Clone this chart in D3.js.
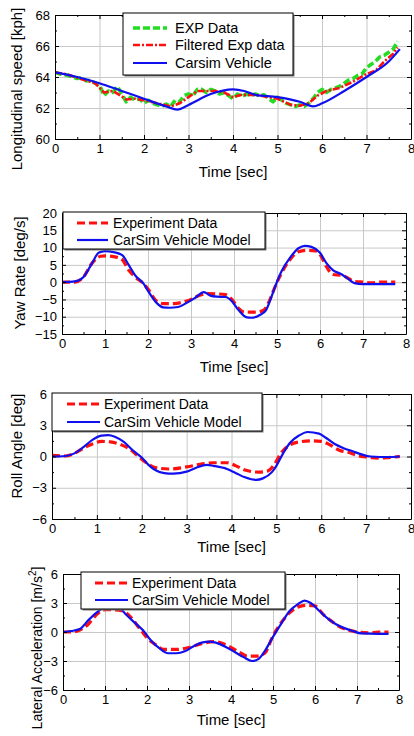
<!DOCTYPE html>
<html>
<head>
<meta charset="utf-8">
<script src="https://cdn.jsdelivr.net/npm/d3@7"></script>
<style>
  body { margin: 0; background: #fff; }
  svg { display: block; font-family: "Liberation Sans", Arial, sans-serif; }
  .grid line { stroke: #c8c8c8; stroke-width: 1; }
  .grid path { display: none; }
  .tick text { font-size: 13px; fill: #000; }
</style>
</head>
<body>
<div id="chart"></div>
<script>
// ---- data ----
const xTicks = [0, 1, 2, 3, 4, 5, 6, 7, 8];

// longitudinal speed [kph]
const speedExp = [[0,64.3],[0.1,64.2],[0.2,64.15],[0.3,64.1],[0.4,64.0],[0.5,63.9],[0.6,63.95],[0.7,63.75],[0.8,63.8],[0.9,63.6],
  [1.0,63.5],[1.1,62.8],[1.2,63.1],[1.3,63.0],[1.4,63.4],[1.5,62.9],[1.6,62.4],[1.7,62.7],[1.8,62.5],[1.9,62.6],
  [2.0,62.3],[2.1,62.5],[2.2,62.3],[2.3,62.2],[2.4,62.1],[2.5,62.25],[2.6,62.1],[2.7,62.5],[2.8,62.4],[2.9,62.8],
  [3.0,62.9],[3.1,62.8],[3.2,63.2],[3.3,63.2],[3.4,63.0],[3.5,63.2],[3.6,63.1],[3.7,62.9],[3.8,63.0],[3.9,62.8],
  [4.0,62.6],[4.1,62.9],[4.2,62.75],[4.3,62.9],[4.4,62.8],[4.5,62.9],[4.6,62.8],[4.7,62.85],[4.8,62.6],[4.9,62.4],
  [5.0,62.7],[5.1,62.5],[5.2,62.3],[5.3,62.2],[5.4,62.1],[5.5,62.2],[5.6,62.1],[5.7,62.3],[5.8,62.6],[5.9,63.0],
  [6.0,63.2],[6.1,63.0],[6.2,63.2],[6.3,63.3],[6.4,63.4],[6.5,63.6],[6.6,63.8],[6.7,63.9],[6.8,64.1],[6.9,64.2],
  [7.0,64.6],[7.1,64.8],[7.2,65.0],[7.3,65.3],[7.4,65.4],[7.5,65.6],[7.6,65.8],[7.7,66.3]];
const speedFiltered = [[0,64.3],[0.3,64.15],[0.6,63.85],[0.9,63.6],[1.1,63.0],[1.3,63.1],[1.5,62.75],[1.6,62.55],[1.8,62.6],
  [2.0,62.5],[2.3,62.3],[2.6,62.1],[2.8,62.3],[3.0,62.7],[3.2,63.1],[3.4,63.1],[3.6,63.1],[3.8,63.0],[4.0,62.7],
  [4.2,62.85],[4.5,62.85],[4.8,62.7],[5.0,62.6],[5.3,62.2],[5.5,62.15],[5.7,62.3],[5.9,62.8],[6.1,63.1],[6.4,63.3],
  [6.7,63.7],[7.0,64.2],[7.2,64.4],[7.4,65.0],[7.6,65.5],[7.7,65.9]];
const speedCarsim = [[0,64.3],[0.5,64.0],[1.0,63.6],[1.5,63.1],[2.0,62.6],[2.5,62.1],[2.75,61.9],[3.0,62.2],[3.5,62.9],
  [4.0,63.2],[4.25,63.1],[4.5,62.85],[5.0,62.7],[5.5,62.4],[5.8,62.1],[6.0,62.3],[6.5,63.1],[7.0,64.0],[7.5,65.0],[7.75,65.8]];

// yaw rate [deg/s]
const yawExp = [[0,0],[0.3,0],[0.5,1.5],[0.7,5.5],[0.9,7.5],[1.0,7.6],[1.2,7.4],[1.4,6.5],[1.55,3.5],[1.7,1.5],[1.9,-0.5],
  [2.0,-2],[2.2,-5.5],[2.35,-6.2],[2.6,-6.2],[2.8,-5.8],[3.0,-5],[3.2,-3.8],[3.4,-3.3],[3.6,-3.4],[3.8,-3.6],[3.95,-5],
  [4.1,-7.5],[4.25,-8.7],[4.5,-8.7],[4.7,-8],[4.8,-6],[4.95,-1.5],[5.1,2.5],[5.3,6.5],[5.5,8.8],[5.7,9.2],[5.9,9.0],
  [6.0,8],[6.15,4.5],[6.3,2.2],[6.5,2.0],[6.6,1.5],[6.8,0.2],[7.0,0],[7.2,-0.2],[7.4,0],[7.6,0],[7.75,0]];
const yawCarsim = [[0,0],[0.3,0.2],[0.5,1.5],[0.7,5.5],[0.85,8.5],[1.0,9.0],[1.2,8.7],[1.4,7.8],[1.55,5],[1.7,2],[1.9,-0.5],
  [2.0,-2.5],[2.2,-6],[2.35,-7.3],[2.5,-7.4],[2.7,-7.2],[2.9,-6],[3.1,-4.5],[3.3,-2.9],[3.45,-3.9],[3.6,-4.2],[3.8,-4.3],
  [3.95,-5.5],[4.1,-8],[4.3,-10.2],[4.4,-10.3],[4.6,-9.5],[4.75,-8],[4.85,-5],[4.95,-1.5],[5.1,3],[5.3,7],[5.5,9.8],
  [5.65,10.5],[5.8,10.2],[6.0,8.5],[6.15,5.5],[6.3,3.5],[6.5,2.3],[6.65,1],[6.8,-0.3],[7.0,-0.6],[7.5,-0.6],[7.75,-0.6]];

// roll angle [deg]
const rollExp = [[0,0.1],[0.3,0.05],[0.5,0.3],[0.7,0.8],[0.9,1.2],[1.1,1.45],[1.3,1.4],[1.5,1.2],[1.7,0.8],[1.9,0.1],
  [2.1,-0.6],[2.3,-1.05],[2.6,-1.2],[3.0,-1.0],[3.3,-0.75],[3.6,-0.6],[3.9,-0.6],[4.1,-0.9],[4.3,-1.3],[4.6,-1.5],
  [4.8,-1.4],[4.95,-0.8],[5.1,0.3],[5.3,1.1],[5.5,1.4],[5.8,1.5],[6.0,1.45],[6.2,1.1],[6.4,0.6],[6.6,0.4],[6.8,0.1],
  [7.0,-0.05],[7.3,-0.15],[7.5,-0.1],[7.75,0]];
const rollCarsim = [[0,0],[0.3,0.05],[0.5,0.3],[0.7,0.9],[0.9,1.6],[1.1,2.0],[1.25,2.05],[1.4,1.9],[1.6,1.4],[1.8,0.6],
  [2.0,-0.1],[2.15,-0.8],[2.3,-1.3],[2.5,-1.6],[2.7,-1.65],[3.0,-1.45],[3.2,-1.1],[3.45,-0.8],[3.6,-0.9],[3.9,-1.2],
  [4.1,-1.6],[4.3,-2.0],[4.55,-2.25],[4.7,-2.1],[4.9,-1.5],[5.0,-0.9],[5.15,0.3],[5.3,1.3],[5.5,2.0],[5.7,2.35],
  [5.95,2.2],[6.1,1.8],[6.3,1.2],[6.5,0.8],[6.7,0.5],[6.9,0.2],[7.1,0.0],[7.5,-0.05],[7.75,0]];

// lateral acceleration [m/s^2]
const latExp = [[0,0],[0.2,0],[0.4,0.2],[0.6,0.8],[0.8,1.8],[1.0,2.3],[1.2,2.3],[1.4,2.2],[1.6,1.6],[1.8,0.5],[2.0,-0.6],
  [2.2,-1.3],[2.4,-1.8],[2.7,-1.8],[3.0,-1.6],[3.3,-1.2],[3.6,-1.0],[3.8,-1.2],[4.0,-1.6],[4.2,-2.1],[4.4,-2.5],[4.6,-2.5],
  [4.8,-2.2],[5.0,-0.4],[5.2,1.0],[5.4,2.0],[5.6,2.6],[5.8,2.75],[6.0,2.7],[6.2,1.8],[6.4,1.1],[6.6,0.5],[6.8,0.2],
  [7.0,0],[7.3,-0.1],[7.5,0],[7.75,0]];
const latCarsim = [[0,0],[0.2,0.1],[0.4,0.3],[0.6,1.2],[0.8,2.0],[1.0,2.6],[1.2,2.7],[1.35,2.5],[1.5,1.8],[1.7,1.0],[1.9,0.2],
  [2.1,-0.9],[2.3,-1.7],[2.5,-2.2],[2.7,-2.2],[2.9,-2.0],[3.1,-1.5],[3.3,-1.1],[3.5,-1.0],[3.7,-1.2],[3.9,-1.6],[4.1,-2.1],
  [4.3,-2.6],[4.5,-3.0],[4.65,-2.8],[4.8,-2.0],[5.0,-0.5],[5.2,0.9],[5.4,2.2],[5.6,2.9],[5.75,3.25],[5.9,3.0],[6.1,2.2],
  [6.3,1.4],[6.5,0.8],[6.7,0.4],[6.9,0.1],[7.1,-0.15],[7.5,-0.2],[7.75,-0.2]];

const speedTicks = [60, 62, 64, 66, 68];
const yawTicks = [-15, -10, -5, 0, 5, 10, 15, 20];
const angleTicks = [-6, -3, 0, 3, 6];

// ---- styles ----
const styles = {
  exp:      { color: "#22dd22", width: 3.6, dash: "7,3", curve: d3.curveLinear },
  filtered: { color: "#ff1010", width: 2.6, dash: "7,2,2,2", curve: d3.curveLinear },
  expData:  { color: "#ff1010", width: 3.2, dash: "8,4", curve: d3.curveMonotoneX },
  carsim:   { color: "#1010ee", width: 2.2, dash: null, curve: d3.curveMonotoneX }
};

const panels = [
  { box: [55, 15, 411, 139], y: [60, 68], yTicks: speedTicks, yMinor: 1,
    ylabel: "Longitudinal speed [kph]", ylabelX: 17, ylabelY: 89, xlabelY: 177, ylabelSize: 15,
    series: [["exp", speedExp], ["filtered", speedFiltered], ["carsim", speedCarsim]],
    legend: { box: [123, 13, 293, 75], rows: [28, 45, 63], line: [133, 167], textX: 175, size: 14.5,
      names: ["EXP Data", "Filtered Exp data", "Carsim Vehicle"], keys: ["exp", "filtered", "carsim"] } },
  { box: [62, 213, 406, 334], y: [-15, 20], yTicks: yawTicks, yMinor: 2.5,
    ylabel: "Yaw Rate  [deg/s]", ylabelX: 20, ylabelY: 273, xlabelY: 372, ylabelSize: 15,
    series: [["expData", yawExp], ["carsim", yawCarsim]],
    legend: { box: [63, 212, 265, 249], rows: [223, 240], line: [77, 108], textX: 113, size: 14,
      names: ["Experiment Data", "CarSim Vehicle Model"], keys: ["expData", "carsim"] } },
  { box: [52, 394, 411, 519], y: [-6, 6], yTicks: angleTicks, yMinor: 1.5,
    ylabel: "Roll Angle [deg]", ylabelX: 17, ylabelY: 446, xlabelY: 552, ylabelSize: 15,
    series: [["expData", rollExp], ["carsim", rollCarsim]],
    legend: { box: [52, 393, 262, 431], rows: [404, 422], line: [67, 100], textX: 104, size: 14,
      names: ["Experiment Data", "CarSim Vehicle Model"], keys: ["expData", "carsim"] } },
  { box: [63, 574, 399, 690], y: [-6, 6], yTicks: angleTicks, yMinor: 1.5,
    ylabel: "Lateral Acceleration [m/s", ylabelSup: "2", ylabelEnd: "]", ylabelX: 37, ylabelY: 648, xlabelY: 725, ylabelSize: 14,
    series: [["expData", latExp], ["carsim", latCarsim]],
    legend: { box: [81, 572, 285, 609], rows: [583, 600], line: [95, 128], textX: 132, size: 14,
      names: ["Experiment Data", "CarSim Vehicle Model"], keys: ["expData", "carsim"] } }
];

const svg = d3.select("#chart").append("svg")
  .attr("width", 414)
  .attr("height", 736);

panels.forEach(drawPanel);

function drawPanel(p) {
  const [x0, y0, x1, y1] = p.box;
  const w = x1 - x0, h = y1 - y0;
  const x = d3.scaleLinear().domain([0, 8]).range([x0, x1]);
  const y = d3.scaleLinear().domain(p.y).range([y1, y0]);
  const xMinor = d3.range(0.5, 8, 1);
  const yMinor = d3.range(p.y[0] + p.yMinor, p.y[1], p.yMinor).filter(v => !p.yTicks.includes(+v.toFixed(3)));

  const g = svg.append("g");

  // grid
  g.append("g").attr("class", "grid")
    .attr("transform", `translate(0,${y1})`)
    .call(d3.axisBottom(x).tickValues(xTicks.slice(1, -1)).tickSize(-h).tickFormat(""));
  g.append("g").attr("class", "grid")
    .attr("transform", `translate(${x0},0)`)
    .call(d3.axisLeft(y).tickValues(p.yTicks.slice(1, -1)).tickSize(-w).tickFormat(""));

  // data
  const clipId = "clip" + y0;
  g.append("clipPath").attr("id", clipId)
    .append("rect").attr("x", x0).attr("y", y0).attr("width", w).attr("height", h);

  p.series.forEach(([key, data]) => {
    const s = styles[key];
    const line = d3.line().x(d => x(d[0])).y(d => y(d[1])).curve(s.curve);
    g.append("path")
      .attr("clip-path", `url(#${clipId})`)
      .attr("d", line(data))
      .attr("fill", "none")
      .attr("stroke", s.color)
      .attr("stroke-width", s.width)
      .attr("stroke-dasharray", s.dash)
      .attr("stroke-linejoin", "round");
  });

  // axes (ticks inward, mirrored)
  const axes = [
    [d3.axisBottom(x), `translate(0,${y1})`, xTicks, xMinor, true],
    [d3.axisTop(x), `translate(0,${y0})`, xTicks, xMinor, false],
    [d3.axisLeft(y), `translate(${x0},0)`, p.yTicks, yMinor, true],
    [d3.axisRight(y), `translate(${x1},0)`, p.yTicks, yMinor, false]
  ];
  axes.forEach(([ax, tr, major, minor, labels]) => {
    const a = g.append("g").attr("transform", tr)
      .call(ax.tickValues(major).tickSizeInner(-4).tickSizeOuter(0).tickPadding(labels ? 5 : 0)
        .tickFormat(labels ? d3.format("d") : ""));
    a.select(".domain").attr("stroke", "#000");
    g.append("g").attr("transform", tr)
      .call(ax.tickValues(minor).tickSizeInner(-2).tickFormat(""))
      .select(".domain").remove();
  });

  // labels
  g.append("text")
    .attr("x", (x0 + x1) / 2)
    .attr("y", p.xlabelY)
    .attr("text-anchor", "middle")
    .attr("font-size", 15)
    .text("Time [sec]");

  const yl = g.append("text")
    .attr("transform", `translate(${p.ylabelX},${p.ylabelY}) rotate(-90)`)
    .attr("text-anchor", "middle")
    .attr("dy", "0.35em")
    .attr("font-size", p.ylabelSize)
    .text(p.ylabel);
  if (p.ylabelSup) {
    yl.append("tspan").attr("font-size", 10).attr("dy", "-0.6em").text(p.ylabelSup);
    yl.append("tspan").attr("dy", "0.4em").text(p.ylabelEnd);
  }

  // legend
  const L = p.legend;
  g.append("rect")
    .attr("x", L.box[0] + 1.5).attr("y", L.box[1] + 1.5)
    .attr("width", L.box[2] - L.box[0]).attr("height", L.box[3] - L.box[1])
    .attr("fill", "#777");
  g.append("rect")
    .attr("x", L.box[0]).attr("y", L.box[1])
    .attr("width", L.box[2] - L.box[0]).attr("height", L.box[3] - L.box[1])
    .attr("fill", "#fff").attr("stroke", "#000").attr("stroke-width", 1);
  L.keys.forEach((k, i) => {
    const s = styles[k];
    g.append("line")
      .attr("x1", L.line[0]).attr("x2", L.line[1])
      .attr("y1", L.rows[i]).attr("y2", L.rows[i])
      .attr("stroke", s.color).attr("stroke-width", s.width)
      .attr("stroke-dasharray", s.dash);
    g.append("text")
      .attr("x", L.textX).attr("y", L.rows[i])
      .attr("dy", "0.35em")
      .attr("font-size", L.size)
      .text(L.names[i]);
  });
}
</script>
</body>
</html>
